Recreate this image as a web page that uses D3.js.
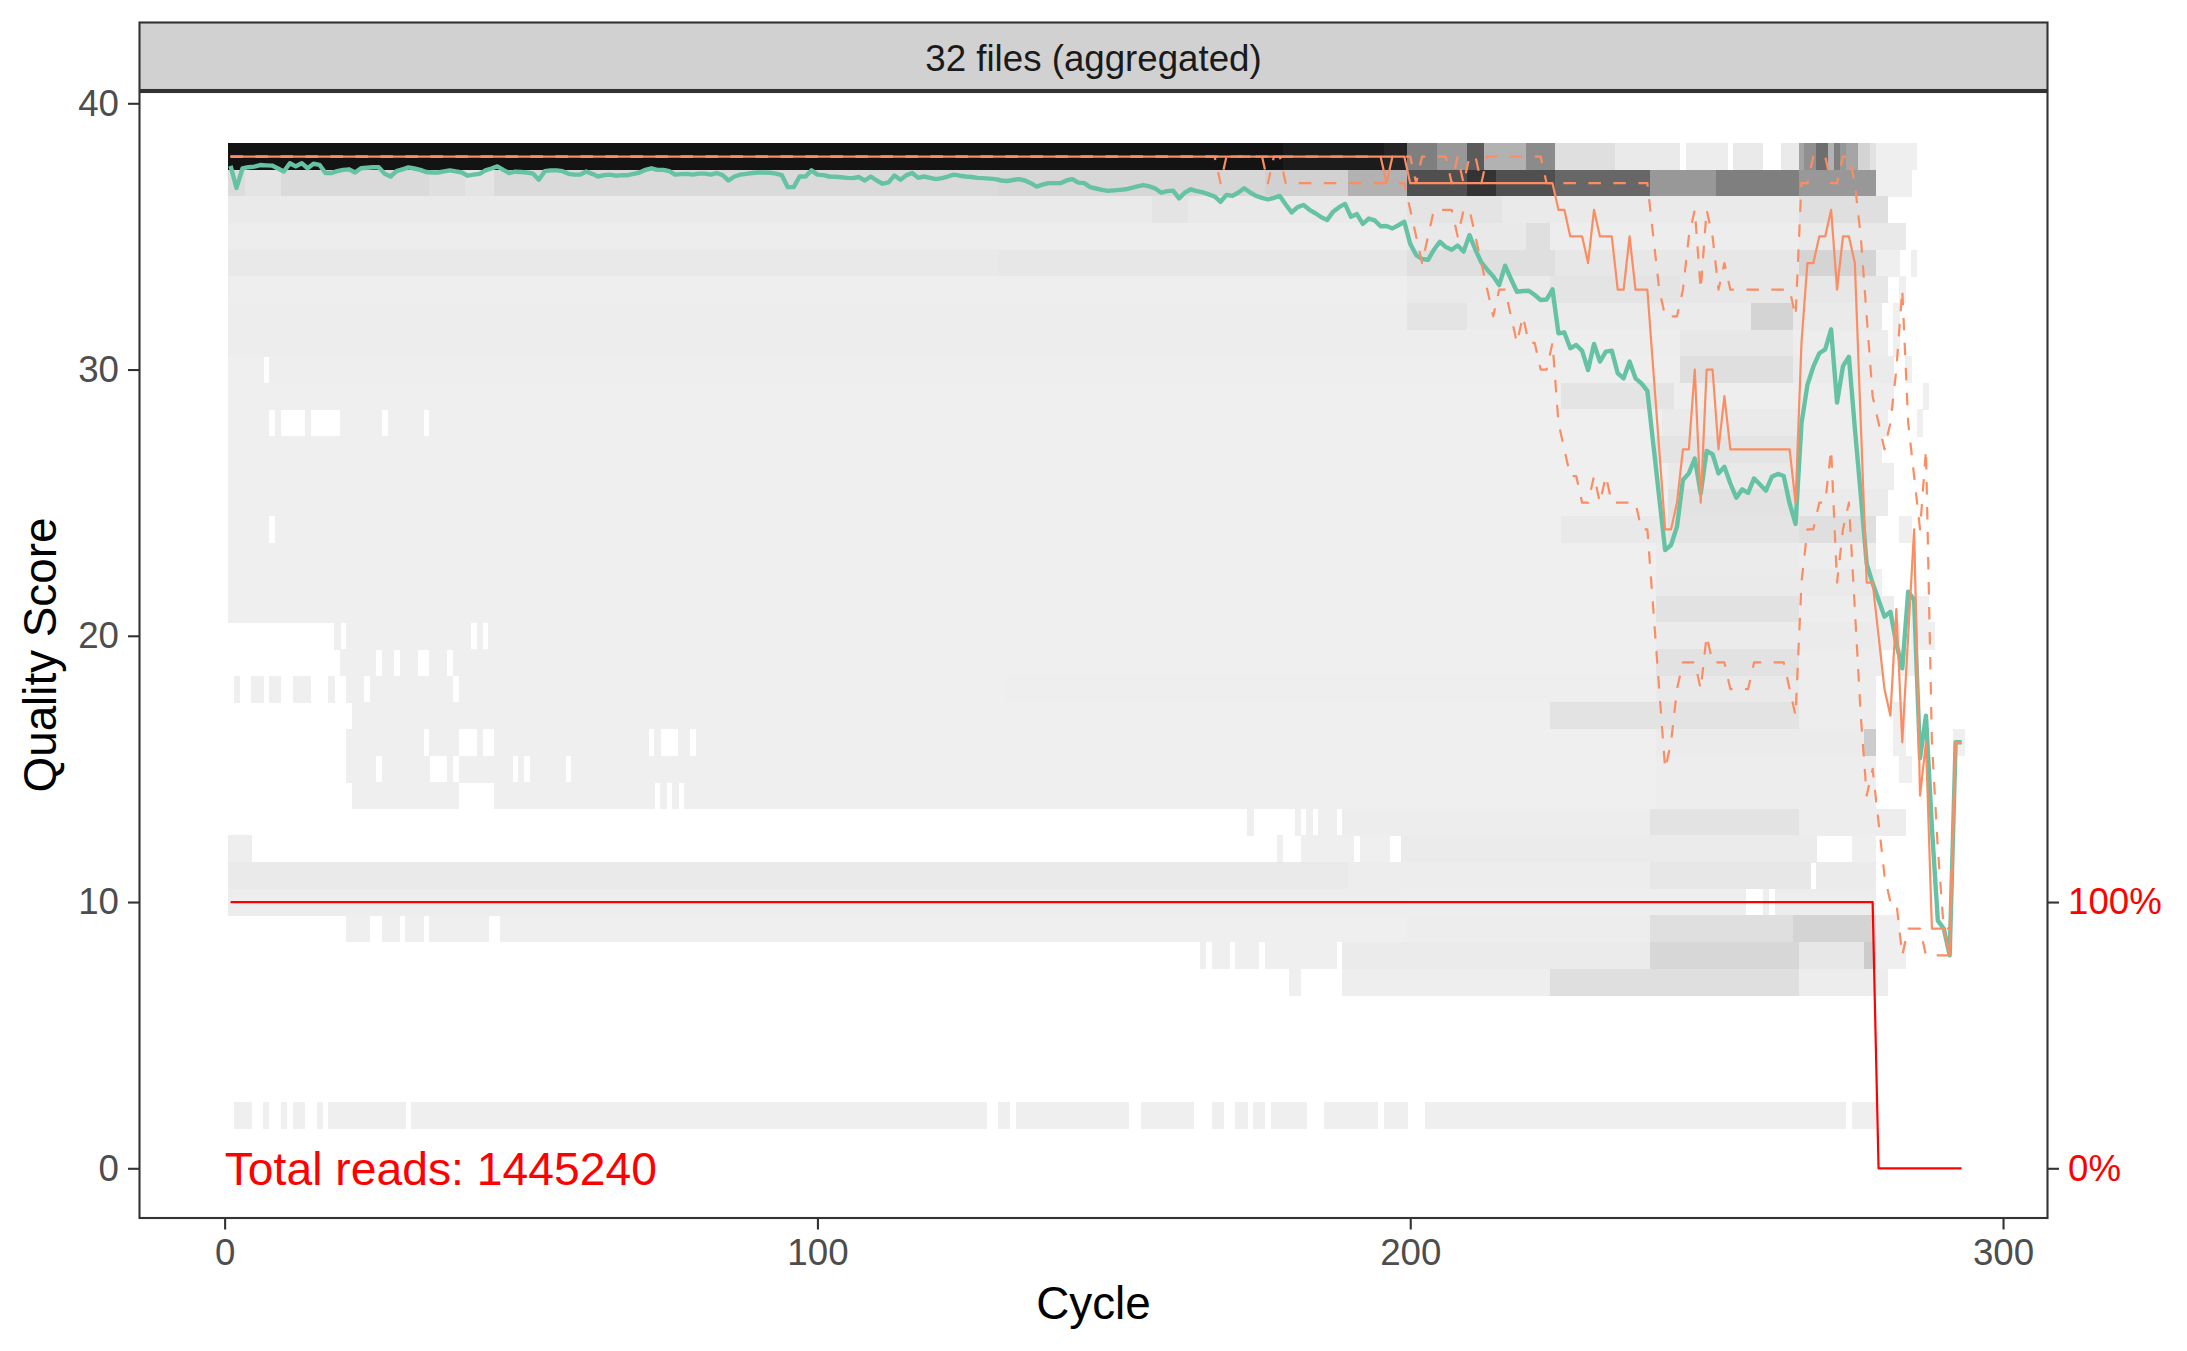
<!DOCTYPE html>
<html><head><meta charset="utf-8">
<script src="https://cdn.jsdelivr.net/npm/d3@7"></script>
<style>
body{margin:0;background:#fff;}
svg text{font-family:"Liberation Sans",Arial,Helvetica,sans-serif;}
</style>
</head><body>
<svg id="chart" width="2187" height="1351"></svg>
<script>
// ---------------- DATA ----------------
const stripLabel = "32 files (aggregated)";
const totalReadsLabel = "Total reads: 1445240";
const xTicks = [0, 100, 200, 300];
const yTicks = [0, 10, 20, 30, 40];
const secTicks = [0, 100];            // percent of reads
const secTickLabels = ["0%", "100%"];

// mean quality score per cycle, cycles 1..293
const meanQ = [
 37.65,36.82,37.55,37.6,37.62,37.68,37.67,37.66,37.55,37.44,
 37.75,37.63,37.75,37.56,37.73,37.69,37.38,37.38,37.45,37.5,
 37.52,37.4,37.56,37.58,37.6,37.6,37.35,37.25,37.45,37.52,
 37.59,37.55,37.5,37.42,37.4,37.4,37.44,37.48,37.44,37.4,
 37.28,37.32,37.35,37.48,37.55,37.63,37.5,37.38,37.43,37.42,
 37.4,37.36,37.13,37.45,37.48,37.48,37.45,37.35,37.32,37.32,
 37.44,37.35,37.25,37.3,37.32,37.28,37.3,37.3,37.35,37.4,
 37.5,37.56,37.5,37.5,37.45,37.32,37.34,37.35,37.32,37.36,
 37.36,37.32,37.38,37.3,37.1,37.25,37.32,37.35,37.38,37.4,
 37.4,37.39,37.36,37.3,36.85,36.85,37.25,37.25,37.48,37.32,
 37.3,37.25,37.24,37.22,37.2,37.19,37.23,37.1,37.25,37.1,
 36.98,37.03,37.29,37.13,37.3,37.38,37.2,37.25,37.2,37.15,
 37.19,37.25,37.32,37.28,37.25,37.23,37.2,37.19,37.17,37.15,
 37.1,37.08,37.12,37.15,37.1,37.0,36.87,36.95,37.0,37.0,
 37.0,37.1,37.15,37.02,37.0,36.85,36.8,36.75,36.71,36.73,
 36.75,36.77,36.82,36.88,36.93,36.88,36.8,36.64,36.7,36.72,
 36.43,36.65,36.77,36.7,36.66,36.58,36.5,36.3,36.56,36.52,
 36.65,36.81,36.65,36.52,36.45,36.39,36.45,36.52,36.2,35.9,
 36.1,36.18,36.0,35.87,35.72,35.62,35.93,36.1,36.22,35.74,
 35.84,35.47,35.67,35.6,35.38,35.39,35.3,35.42,35.55,34.72,
 34.3,34.15,34.12,34.5,34.8,34.6,34.5,34.66,34.43,35.05,
 34.5,34.02,33.75,33.5,33.17,33.9,33.4,32.92,32.95,32.96,
 32.8,32.61,32.63,33.01,31.36,31.39,30.8,30.92,30.7,29.98,
 30.96,30.3,30.67,30.71,29.86,29.67,30.3,29.67,29.48,29.2,
 27.2,25.2,23.22,23.41,24.1,25.85,26.1,26.66,25.35,26.94,
 26.82,26.1,26.35,25.72,25.19,25.5,25.37,25.91,25.68,25.45,
 25.97,26.08,26.0,24.97,24.2,27.98,29.42,30.11,30.61,30.76,
 31.51,28.76,30.13,30.48,27.8,25.3,22.7,21.97,21.35,20.72,
 20.9,19.7,18.78,21.66,21.35,15.4,17.0,12.8,9.3,9.0,
 8.0,16.0,16.0
];

// median / quartiles as [value, number of consecutive cycles], starting at cycle 1
const q50Runs = [[38,195],[37,1],[38,3],[37,25],[36,2],[35,3],[34,1],[36,1],[35,3],[33,2],[35,1],[33,3],
 [30,1],[27,1],[24,2],[25,1],[27,2],[30,1],[25,1],[30,2],[27,1],[29,1],[27,11],[25,1],[31,1],[34,2],[35,2],
 [36,1],[33,1],[35,2],[34,1],[28,1],[22,2],[20,1],[18,1],[17,1],[21,1],[16,1],[20,1],[24,1],[14,1],[16,1],
 [9,3],[8,1],[16,2]];
const q25Runs = [[38,167],[37,1],[38,7],[37,1],[38,2],[37,21],[36,1],[35,1],[34,1],[35,1],[36,4],[35,1],[36,2],
 [35,1],[34,1],[33,1],[32,1],[33,2],[32,1],[31,1],[32,1],[31,2],[30,2],[31,1],[28,1],[27,1],[26,2],[25,2],
 [26,1],[25,1],[26,1],[25,5],[24,2],[21,1],[18,1],[15,1],[16,1],[18,1],[19,3],[18,1],[20,1],[19,3],[18,4],
 [19,6],[18,1],[17,1],[22,1],[24,2],[25,2],[27,1],[22,1],[24,1],[25,1],[21,1],[17,1],[14,1],[15,1],[13,1],
 [11,1],[10,2],[8,1],[9,3],[8,5],[16,2]];
const q75Runs = [[38,200],[37,1],[38,5],[37,1],[38,1],[37,1],[38,2],[37,1],[38,10],[37,18],[35,1],[33,1],
 [32,3],[33,1],[35,1],[36,1],[33,1],[36,1],[35,1],[33,1],[34,1],[33,11],[32,1],[37,2],[38,3],[37,2],[38,2],
 [37,1],[35,1],[32,1],[29,1],[28,1],[27,1],[28,1],[30,1],[33,1],[28,1],[26,1],[24,1],[27,1],[16,1],[12,1],
 [9,2],[16,2]];
// percentage of reads reaching each cycle
const readPctRuns = [[100,278],[0,15]];

// heat-map rows: quality score and its [firstCycle, lastCycle, relative read density] runs
const tileScores = [38,37,36,35,34,33,32,31,30,29,28,27,26,25,24,23,22,21,20,19,18,17,16,15,14,13,12,11,10,9,8,7,2];
const tileRuns = [
 [[1,178,0.94],[179,195,0.9],[196,199,0.85],[200,204,0.45],[205,209,0.35],[210,212,0.6],[213,219,0.25],[220,224,0.4],[225,234,0.08],[235,245,0.04],[247,253,0.03],[255,259,0.04],[263,265,0.04],[266,266,0.3],[267,268,0.38],[269,270,0.52],[271,271,0.25],[272,272,0.45],[273,273,0.35],[274,275,0.3],[276,277,0.12],[278,278,0.07],[279,285,0.02]],
 [[1,3,0.09],[4,9,0.06],[10,34,0.1],[35,40,0.08],[41,45,0.06],[46,130,0.1],[131,175,0.11],[176,189,0.13],[190,199,0.25],[200,209,0.65],[210,214,0.78],[215,224,0.65],[225,240,0.55],[241,251,0.35],[252,265,0.45],[266,278,0.35],[279,284,0.02]],
 [[1,156,0.04],[157,162,0.06],[163,199,0.045],[200,215,0.06],[216,265,0.04],[266,280,0.08]],
 [[1,199,0.03],[200,219,0.045],[220,223,0.08],[224,265,0.03],[266,283,0.045]],
 [[1,130,0.045],[131,199,0.05],[200,224,0.08],[225,265,0.05],[266,278,0.12],[279,282,0.02],[285,285,0.02]],
 [[1,199,0.025],[200,223,0.04],[224,245,0.06],[246,265,0.05],[266,280,0.05],[283,283,0.02]],
 [[1,199,0.03],[200,209,0.06],[210,257,0.035],[258,264,0.12],[265,279,0.04],[282,282,0.02]],
 [[1,199,0.03],[200,245,0.03],[246,264,0.05],[265,280,0.03],[282,282,0.02]],
 [[1,6,0.02],[8,199,0.025],[200,245,0.025],[246,264,0.08],[265,281,0.035],[284,284,0.02]],
 [[1,225,0.02],[226,244,0.06],[245,281,0.025],[287,287,0.02]],
 [[1,7,0.02],[9,9,0.02],[14,14,0.02],[20,26,0.02],[28,33,0.02],[35,242,0.02],[243,265,0.04],[266,280,0.025],[286,286,0.02]],
 [[1,241,0.02],[242,265,0.06],[266,279,0.025]],
 [[1,243,0.02],[244,265,0.045],[266,281,0.025]],
 [[1,243,0.02],[244,265,0.07],[266,280,0.035]],
 [[1,7,0.02],[9,225,0.02],[226,243,0.045],[244,265,0.06],[266,278,0.08],[283,284,0.02]],
 [[1,241,0.02],[242,265,0.035],[266,278,0.03]],
 [[1,241,0.02],[242,278,0.04],[279,279,0.02]],
 [[1,241,0.02],[242,265,0.07],[266,281,0.03],[285,287,0.02]],
 [[19,19,0.02],[21,41,0.02],[43,43,0.02],[45,241,0.02],[242,278,0.035],[279,282,0.02],[285,288,0.02]],
 [[20,25,0.02],[27,28,0.02],[30,32,0.02],[35,37,0.02],[39,241,0.02],[242,265,0.07],[266,279,0.03],[283,285,0.02]],
 [[2,2,0.02],[5,6,0.02],[8,9,0.02],[12,14,0.02],[18,18,0.02],[21,23,0.02],[25,38,0.02],[40,131,0.02],[132,241,0.025],[242,265,0.045],[266,278,0.03]],
 [[22,223,0.02],[224,265,0.065],[266,278,0.03],[282,283,0.02]],
 [[21,33,0.02],[35,39,0.02],[43,43,0.02],[46,71,0.02],[73,73,0.02],[77,78,0.02],[80,241,0.02],[242,276,0.035],[277,278,0.15],[282,283,0.02],[292,293,0.02]],
 [[21,25,0.02],[27,34,0.02],[38,38,0.02],[40,48,0.02],[50,50,0.02],[52,57,0.02],[59,241,0.02],[242,278,0.03],[283,284,0.02]],
 [[22,39,0.02],[46,72,0.02],[74,74,0.02],[76,76,0.02],[78,241,0.02],[242,278,0.03]],
 [[173,173,0.02],[181,181,0.02],[183,183,0.02],[185,187,0.02],[189,240,0.03],[241,265,0.065],[266,283,0.03]],
 [[1,4,0.025],[178,178,0.02],[182,190,0.02],[192,196,0.02],[199,268,0.035],[275,278,0.02]],
 [[1,189,0.04],[190,240,0.03],[241,267,0.05],[269,278,0.035]],
 [[1,199,0.03],[200,256,0.025],[260,260,0.025],[262,278,0.03]],
 [[21,24,0.02],[27,29,0.02],[31,33,0.02],[35,44,0.02],[47,199,0.02],[200,240,0.03],[241,264,0.08],[265,278,0.12],[279,282,0.02]],
 [[165,165,0.02],[167,169,0.02],[171,174,0.02],[176,187,0.02],[189,240,0.035],[241,265,0.11],[266,276,0.05],[277,278,0.15],[279,283,0.02]],
 [[180,181,0.02],[189,223,0.025],[224,265,0.08],[266,280,0.03]],
 [[2,4,0.02],[7,7,0.02],[10,10,0.02],[12,13,0.02],[16,16,0.02],[18,30,0.02],[32,128,0.02],[131,132,0.02],[134,152,0.02],[155,163,0.02],[167,168,0.02],[171,172,0.02],[174,175,0.02],[177,182,0.02],[186,194,0.02],[196,199,0.02],[203,273,0.02],[275,278,0.02]]
];

// ---------------- DRAWING ----------------
const W = 2187, H = 1351;
const panel = {left: 139.5, right: 2047.5, top: 92, bottom: 1218};
const x = d3.scaleLinear().domain([-14.36, 307.5]).range([panel.left, panel.right]);
const y = d3.scaleLinear().domain([-1.867, 40.424]).range([panel.bottom, panel.top]);
const ySec = d3.scaleLinear().domain(y.domain().map(v => v * 10)).range(y.range());
const fill = d3.scaleLinear().domain([0, 1]).range(["#F5F5F5", "#000000"]).interpolate(d3.interpolateLab);

function expandRuns(runs) {
  const out = [];
  runs.forEach(([v, n]) => { for (let i = 0; i < n; i++) out.push(v); });
  return out;
}
const toPoints = arr => arr.map((v, i) => ({c: i + 1, v}));

const svg = d3.select("#chart");
svg.append("rect").attr("width", W).attr("height", H).attr("fill", "#fff");

// strip
svg.append("rect")
  .attr("x", panel.left).attr("y", 22.5)
  .attr("width", panel.right - panel.left).attr("height", panel.top - 22.5 - 2)
  .attr("fill", "#D1D1D1").attr("stroke", "#333333").attr("stroke-width", 2.1);
svg.append("text")
  .attr("x", (panel.left + panel.right) / 2).attr("y", 71)
  .attr("text-anchor", "middle").attr("font-size", 36.7).attr("fill", "#1A1A1A")
  .text(stripLabel);

// tiles
const tiles = [];
tileScores.forEach((q, i) => {
  tileRuns[i].forEach(([a, b, t]) => { for (let c = a; c <= b; c++) tiles.push({c, q, t}); });
});
svg.append("g").attr("shape-rendering", "crispEdges")
  .selectAll("rect").data(tiles).join("rect")
  .attr("x", d => x(d.c - 0.5))
  .attr("width", d => x(d.c + 0.5) - x(d.c - 0.5) + 0.4)
  .attr("y", d => y(d.q + 0.5))
  .attr("height", d => y(d.q - 0.5) - y(d.q + 0.5) + 0.4)
  .attr("fill", d => fill(d.t));

const line = d3.line().x(d => x(d.c)).y(d => y(d.v));

// mean
svg.append("path").datum(toPoints(meanQ)).attr("d", line)
  .attr("fill", "none").attr("stroke", "#66C2A5").attr("stroke-width", 4.4)
  .attr("stroke-linejoin", "round");
// quartiles (dashed) and median
svg.append("path").datum(toPoints(expandRuns(q25Runs))).attr("d", line)
  .attr("fill", "none").attr("stroke", "#FC8D62").attr("stroke-width", 2.2)
  .attr("stroke-dasharray", "12.5 12.5").attr("stroke-linejoin", "round");
svg.append("path").datum(toPoints(expandRuns(q50Runs))).attr("d", line)
  .attr("fill", "none").attr("stroke", "#FC8D62").attr("stroke-width", 2.2)
  .attr("stroke-linejoin", "round");
svg.append("path").datum(toPoints(expandRuns(q75Runs))).attr("d", line)
  .attr("fill", "none").attr("stroke", "#FC8D62").attr("stroke-width", 2.2)
  .attr("stroke-dasharray", "12.5 12.5").attr("stroke-linejoin", "round");

// total reads annotation
svg.append("text")
  .attr("x", x(0)).attr("y", y(0)).attr("dy", 17)
  .attr("font-size", 46.3).attr("fill", "#FF0000")
  .text(totalReadsLabel);

// cumulative reads line (red)
const pctLine = d3.line().x(d => x(d.c)).y(d => ySec(d.v));
svg.append("path").datum(toPoints(expandRuns(readPctRuns))).attr("d", pctLine)
  .attr("fill", "none").attr("stroke", "#FF0000").attr("stroke-width", 2.2)
  .attr("stroke-linejoin", "round");

// panel border
svg.append("rect")
  .attr("x", panel.left).attr("y", panel.top)
  .attr("width", panel.right - panel.left).attr("height", panel.bottom - panel.top)
  .attr("fill", "none").attr("stroke", "#333333").attr("stroke-width", 2.1);

function styleAxis(g, color) {
  g.attr("font-family", '"Liberation Sans",Arial,sans-serif');
  g.select(".domain").remove();
  g.selectAll(".tick line").attr("stroke", "#333333").attr("stroke-width", 2.1);
  g.selectAll(".tick text").attr("font-size", 36.7).attr("fill", color);
}

const gL = svg.append("g").attr("transform", `translate(${panel.left},0)`)
  .call(d3.axisLeft(y).tickValues(yTicks).tickSize(11.5).tickPadding(9));
styleAxis(gL, "#4D4D4D");

const gB = svg.append("g").attr("transform", `translate(0,${panel.bottom})`)
  .call(d3.axisBottom(x).tickValues(xTicks).tickSize(11.5).tickPadding(9));
styleAxis(gB, "#4D4D4D");

const gR = svg.append("g").attr("transform", `translate(${panel.right},0)`)
  .call(d3.axisRight(ySec).tickValues(secTicks).tickFormat((d, i) => secTickLabels[i]).tickSize(11.5).tickPadding(9));
styleAxis(gR, "#FF0000");

// axis titles
svg.append("text")
  .attr("x", (panel.left + panel.right) / 2).attr("y", 1319)
  .attr("text-anchor", "middle").attr("font-size", 45.8).attr("fill", "#000")
  .text("Cycle");
svg.append("text")
  .attr("transform", `translate(56,${(panel.top + panel.bottom) / 2}) rotate(-90)`)
  .attr("text-anchor", "middle").attr("font-size", 45.8).attr("fill", "#000")
  .text("Quality Score");
</script>
</body></html>
